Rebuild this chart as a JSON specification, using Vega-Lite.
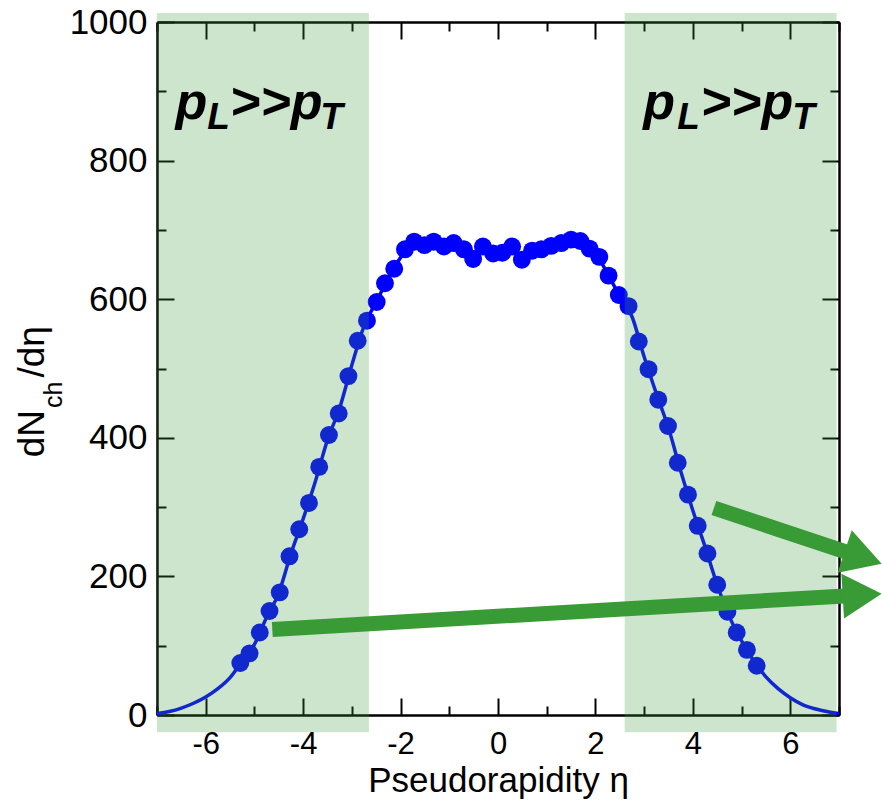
{
  "$schema": "https://vega.github.io/schema/vega-lite/v6.json",
  "width": 682,
  "height": 693,
  "autosize": {"type": "none"},
  "padding": {"left": 157, "top": 22, "right": 43, "bottom": 92},
  "background": "white",
  "config": {
    "view": {"stroke": null},
    "axis": {
      "domainColor": "black", "domainWidth": 2, "tickColor": "black", "tickWidth": 2,
      "grid": false, "labelColor": "black", "labelFont": "Liberation Sans",
      "titleFont": "Liberation Sans", "titleColor": "black", "titleFontWeight": "normal"
    }
  },
  "datasets": {
    "pts": [
      {"eta": -5.29, "v": 75}, {"eta": -5.10, "v": 89}, {"eta": -4.89, "v": 119}, {"eta": -4.69, "v": 150},
      {"eta": -4.48, "v": 177}, {"eta": -4.28, "v": 229}, {"eta": -4.08, "v": 268}, {"eta": -3.88, "v": 306},
      {"eta": -3.67, "v": 358}, {"eta": -3.47, "v": 404}, {"eta": -3.27, "v": 435}, {"eta": -3.07, "v": 489},
      {"eta": -2.88, "v": 540}, {"eta": -2.69, "v": 569}, {"eta": -2.49, "v": 596}, {"eta": -2.32, "v": 623},
      {"eta": -2.13, "v": 644}, {"eta": -1.91, "v": 672}, {"eta": -1.72, "v": 683}, {"eta": -1.51, "v": 678},
      {"eta": -1.32, "v": 683}, {"eta": -1.11, "v": 676}, {"eta": -0.91, "v": 681}, {"eta": -0.70, "v": 672},
      {"eta": -0.51, "v": 658}, {"eta": -0.31, "v": 676}, {"eta": -0.10, "v": 666}, {"eta": 0.09, "v": 667},
      {"eta": 0.29, "v": 676}, {"eta": 0.49, "v": 657}, {"eta": 0.70, "v": 670}, {"eta": 0.89, "v": 672},
      {"eta": 1.09, "v": 677}, {"eta": 1.30, "v": 681}, {"eta": 1.50, "v": 686}, {"eta": 1.69, "v": 684},
      {"eta": 1.88, "v": 673}, {"eta": 2.08, "v": 661}, {"eta": 2.27, "v": 634}, {"eta": 2.48, "v": 606},
      {"eta": 2.68, "v": 590}, {"eta": 2.89, "v": 539}, {"eta": 3.09, "v": 499}, {"eta": 3.29, "v": 455},
      {"eta": 3.49, "v": 417}, {"eta": 3.69, "v": 364}, {"eta": 3.90, "v": 318}, {"eta": 4.10, "v": 273},
      {"eta": 4.30, "v": 233}, {"eta": 4.50, "v": 188}, {"eta": 4.71, "v": 149}, {"eta": 4.90, "v": 119},
      {"eta": 5.11, "v": 94}, {"eta": 5.31, "v": 71}
    ],
    "curve": [
      {"eta": -7.0, "v": 2}, {"eta": -6.75, "v": 5}, {"eta": -6.5, "v": 10}, {"eta": -6.25, "v": 17},
      {"eta": -6.0, "v": 26}, {"eta": -5.75, "v": 38}, {"eta": -5.5, "v": 54}, {"eta": -5.25, "v": 78},
      {"eta": -5.0, "v": 102}, {"eta": -4.75, "v": 141}, {"eta": -4.5, "v": 176}, {"eta": -4.25, "v": 233},
      {"eta": -4.0, "v": 283}, {"eta": -3.75, "v": 337}, {"eta": -3.5, "v": 397}, {"eta": -3.25, "v": 443},
      {"eta": -3.0, "v": 505}, {"eta": -2.75, "v": 561}, {"eta": -2.5, "v": 596}, {"eta": -2.25, "v": 630},
      {"eta": -2.0, "v": 660}, {"eta": -1.75, "v": 678}, {"eta": -1.5, "v": 680}, {"eta": -1.0, "v": 678},
      {"eta": -0.5, "v": 668}, {"eta": 0.0, "v": 668}, {"eta": 0.5, "v": 665}, {"eta": 1.0, "v": 675},
      {"eta": 1.5, "v": 684}, {"eta": 1.75, "v": 680}, {"eta": 2.0, "v": 666}, {"eta": 2.25, "v": 637},
      {"eta": 2.5, "v": 604}, {"eta": 2.75, "v": 575}, {"eta": 3.0, "v": 517}, {"eta": 3.25, "v": 464},
      {"eta": 3.5, "v": 414}, {"eta": 3.75, "v": 352}, {"eta": 4.0, "v": 295}, {"eta": 4.25, "v": 243},
      {"eta": 4.5, "v": 188}, {"eta": 4.75, "v": 142}, {"eta": 5.0, "v": 107}, {"eta": 5.25, "v": 78},
      {"eta": 5.5, "v": 55}, {"eta": 5.75, "v": 38}, {"eta": 6.0, "v": 25}, {"eta": 6.25, "v": 15},
      {"eta": 6.5, "v": 9}, {"eta": 6.75, "v": 5}, {"eta": 7.0, "v": 2}
    ],
    "bands": [
      {"x1": -7.0, "x2": -2.65, "y1": -25, "y2": 1013},
      {"x1": 2.6, "x2": 6.95, "y1": -25, "y2": 1013}
    ],
    "shafts": [
      {"id": "a1", "x": -4.633, "y": 123.4, "x2": 7.476, "y2": 173.2},
      {"id": "a2", "x": 4.432, "y": 298.7, "x2": 7.496, "y2": 227}
    ],
    "heads": [
      {"id": "a1", "x": 7.476, "y": 173.2},
      {"id": "a2", "x": 7.496, "y": 227}
    ],
    "labels": [
      {"kind": "main", "x": -6.62, "y": 860, "t": "p"},
      {"kind": "sub", "x": -5.97, "y": 845, "t": "L"},
      {"kind": "main", "x": -5.50, "y": 860, "t": ">>p"},
      {"kind": "sub", "x": -3.65, "y": 845, "t": "T"},
      {"kind": "main", "x": 2.98, "y": 860, "t": "p"},
      {"kind": "sub", "x": 3.68, "y": 845, "t": "L"},
      {"kind": "main", "x": 4.16, "y": 860, "t": ">>p"},
      {"kind": "sub", "x": 6.04, "y": 845, "t": "T"}
    ],
    "ytitle": [
      {"kind": "main", "x": -9.32, "y": 372, "t": "dN"},
      {"kind": "sub", "x": -8.95, "y": 443, "t": "ch"},
      {"kind": "main", "x": -9.32, "y": 487, "t": "/dη"}
    ]
  },
  "resolve": {"axis": {"x": "independent", "y": "independent"}},
  "layer": [
    {
      "data": {"name": "curve"},
      "mark": {"type": "line", "color": "#0000ff", "strokeWidth": 3.5, "interpolate": "monotone"},
      "encoding": {
        "x": {"field": "eta", "type": "quantitative", "scale": {"domain": [-7, 7], "nice": false, "zero": false},
          "axis": {"orient": "bottom", "values": [-6, -4, -2, 0, 2, 4, 6], "tickSize": -17, "labelPadding": 31,
            "labelExpr": "datum.value < 0 ? '-' + abs(datum.value) : '' + datum.value",
            "labelFontSize": 31, "title": "Pseudorapidity η", "titleFontSize": 35, "titlePadding": 4}},
        "y": {"field": "v", "type": "quantitative", "scale": {"domain": [0, 1000], "nice": false, "zero": false},
          "axis": {"orient": "left", "values": [0, 200, 400, 600, 800, 1000], "tickSize": -17, "labelPadding": 27,
            "format": "d", "labelFontSize": 35, "title": null}}
      }
    },
    {
      "data": {"name": "pts"},
      "mark": {"type": "circle", "color": "#0000ff", "size": 320, "opacity": 1},
      "encoding": {
        "x": {"field": "eta", "type": "quantitative", "scale": {"domain": [-7, 7], "nice": false, "zero": false},
          "axis": {"orient": "bottom", "values": [-7, -5, -3, -1, 1, 3, 5, 7], "tickSize": -9, "labels": false, "title": null}},
        "y": {"field": "v", "type": "quantitative", "scale": {"domain": [0, 1000], "nice": false, "zero": false},
          "axis": {"orient": "left", "values": [100, 300, 500, 700, 900], "tickSize": -9, "labels": false, "title": null}}
      }
    },
    {
      "data": {"name": "bands"},
      "mark": {"type": "rect", "color": "#3d9c3d", "opacity": 0.26},
      "encoding": {
        "x": {"field": "x1", "type": "quantitative", "scale": {"domain": [-7, 7], "nice": false, "zero": false},
          "axis": {"orient": "top", "values": [-6, -4, -2, 0, 2, 4, 6], "tickSize": -17, "labels": false, "title": null}},
        "x2": {"field": "x2"},
        "y": {"field": "y1", "type": "quantitative", "scale": {"domain": [0, 1000], "nice": false, "zero": false},
          "axis": {"orient": "right", "values": [0, 200, 400, 600, 800, 1000], "tickSize": -17, "labels": false, "title": null}},
        "y2": {"field": "y2"}
      }
    },
    {
      "data": {"name": "shafts"},
      "mark": {"type": "rule", "color": "#389b35", "strokeWidth": 15, "strokeCap": "butt"},
      "encoding": {
        "x": {"field": "x", "type": "quantitative", "scale": {"domain": [-7, 7], "nice": false, "zero": false},
          "axis": {"orient": "top", "values": [-7, -5, -3, -1, 1, 3, 5, 7], "tickSize": -9, "labels": false, "title": null}},
        "x2": {"field": "x2"},
        "y": {"field": "y", "type": "quantitative", "scale": {"domain": [0, 1000], "nice": false, "zero": false},
          "axis": {"orient": "right", "values": [100, 300, 500, 700, 900], "tickSize": -9, "labels": false, "title": null}},
        "y2": {"field": "y2"}
      }
    },
    {
      "data": {"name": "heads"},
      "transform": [{"filter": "datum.id === 'a1'"}],
      "mark": {"type": "point", "shape": "M -1 -1.15 L 1 0 L -1 1.15 Z", "size": 1521, "filled": true, "color": "#389b35", "opacity": 1, "angle": 356.7},
      "encoding": {
        "x": {"field": "x", "type": "quantitative", "scale": {"domain": [-7, 7], "nice": false, "zero": false}, "axis": null},
        "y": {"field": "y", "type": "quantitative", "scale": {"domain": [0, 1000], "nice": false, "zero": false}, "axis": null}
      }
    },
    {
      "data": {"name": "heads"},
      "transform": [{"filter": "datum.id === 'a2'"}],
      "mark": {"type": "point", "shape": "M -1 -1.15 L 1 0 L -1 1.15 Z", "size": 1521, "filled": true, "color": "#389b35", "opacity": 1, "angle": 18.4},
      "encoding": {
        "x": {"field": "x", "type": "quantitative", "scale": {"domain": [-7, 7], "nice": false, "zero": false}, "axis": null},
        "y": {"field": "y", "type": "quantitative", "scale": {"domain": [0, 1000], "nice": false, "zero": false}, "axis": null}
      }
    },
    {
      "data": {"name": "labels"},
      "transform": [{"filter": "datum.kind === 'main'"}],
      "mark": {"type": "text", "align": "left", "baseline": "alphabetic", "font": "Liberation Sans", "fontSize": 52, "fontWeight": "bold", "fontStyle": "italic", "color": "black"},
      "encoding": {
        "x": {"field": "x", "type": "quantitative", "scale": {"domain": [-7, 7], "nice": false, "zero": false}, "axis": null},
        "y": {"field": "y", "type": "quantitative", "scale": {"domain": [0, 1000], "nice": false, "zero": false}, "axis": null},
        "text": {"field": "t"}
      }
    },
    {
      "data": {"name": "labels"},
      "transform": [{"filter": "datum.kind === 'sub'"}],
      "mark": {"type": "text", "align": "left", "baseline": "alphabetic", "font": "Liberation Sans", "fontSize": 37, "fontWeight": "bold", "fontStyle": "italic", "color": "black"},
      "encoding": {
        "x": {"field": "x", "type": "quantitative", "scale": {"domain": [-7, 7], "nice": false, "zero": false}, "axis": null},
        "y": {"field": "y", "type": "quantitative", "scale": {"domain": [0, 1000], "nice": false, "zero": false}, "axis": null},
        "text": {"field": "t"}
      }
    },
    {
      "data": {"name": "ytitle"},
      "transform": [{"filter": "datum.kind === 'main'"}],
      "mark": {"type": "text", "align": "left", "baseline": "alphabetic", "angle": 270, "font": "Liberation Sans", "fontSize": 37, "color": "black"},
      "encoding": {
        "x": {"field": "x", "type": "quantitative", "scale": {"domain": [-7, 7], "nice": false, "zero": false}, "axis": null},
        "y": {"field": "y", "type": "quantitative", "scale": {"domain": [0, 1000], "nice": false, "zero": false}, "axis": null},
        "text": {"field": "t"}
      }
    },
    {
      "data": {"name": "ytitle"},
      "transform": [{"filter": "datum.kind === 'sub'"}],
      "mark": {"type": "text", "align": "left", "baseline": "alphabetic", "angle": 270, "font": "Liberation Sans", "fontSize": 25, "color": "black"},
      "encoding": {
        "x": {"field": "x", "type": "quantitative", "scale": {"domain": [-7, 7], "nice": false, "zero": false}, "axis": null},
        "y": {"field": "y", "type": "quantitative", "scale": {"domain": [0, 1000], "nice": false, "zero": false}, "axis": null},
        "text": {"field": "t"}
      }
    }
  ]
}
